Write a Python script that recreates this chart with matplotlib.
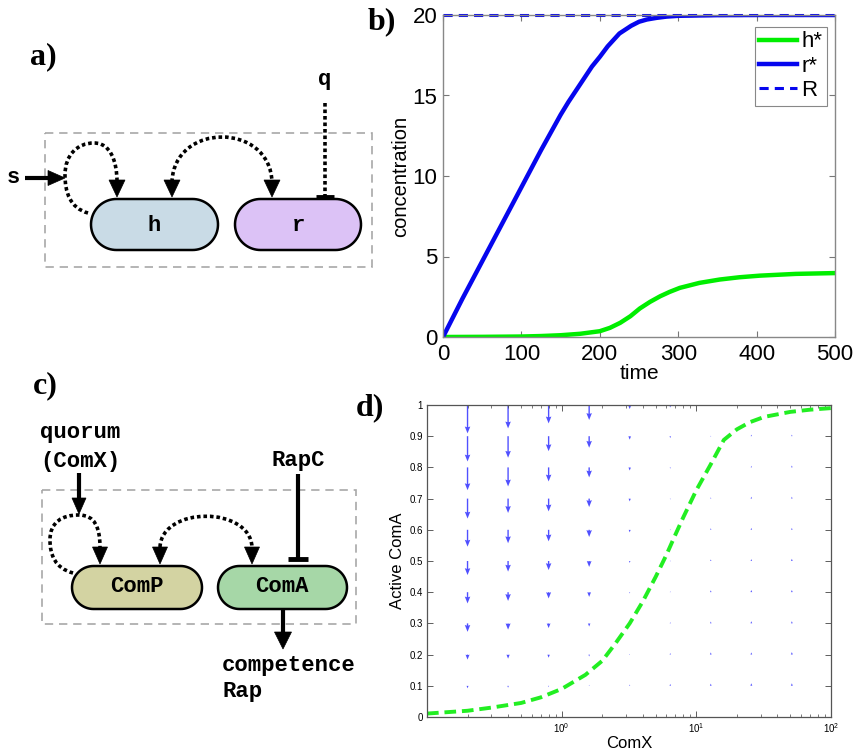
import numpy as np
import matplotlib
matplotlib.use("Agg")
import matplotlib.pyplot as plt
from matplotlib.patches import Polygon, Rectangle, PathPatch
from matplotlib.path import Path
from matplotlib.ticker import FixedLocator, LogLocator, NullFormatter

# ---- panel b data ----
t_r = [0, 25, 50, 75, 100, 125, 150, 160, 175, 190, 200, 210, 225, 240, 250,
       260, 272, 285, 300, 350, 400, 500]
r_star = [0, 2.4, 4.7, 7.0, 9.3, 11.6, 13.8, 14.6, 15.7, 16.8, 17.4, 18.05,
          18.85, 19.33, 19.58, 19.72, 19.82, 19.9, 19.95, 19.99, 20.0, 20.0]
t_h = [0, 50, 100, 125, 150, 175, 200, 213, 226, 239, 251, 264, 277, 289,
       302, 327, 353, 378, 404, 450, 500]
h_star = [0, 0.01, 0.03, 0.06, 0.11, 0.2, 0.36, 0.57, 0.88, 1.29, 1.77, 2.18,
          2.53, 2.80, 3.05, 3.36, 3.57, 3.71, 3.81, 3.92, 3.97]
t_R = [0, 500]
R_total = [20, 20]

# ---- panel d data ----
comx = [0.1, 0.2, 0.3, 0.5, 0.7, 1, 1.5, 2, 2.5, 3.2, 4, 5, 6, 7, 8, 10,
        12.8, 16, 20, 25, 32, 50, 70, 100]
active_coma = [0.011, 0.02, 0.03, 0.045, 0.063, 0.09, 0.135, 0.18, 0.235,
               0.30, 0.37, 0.45, 0.52, 0.585, 0.64, 0.727, 0.81, 0.888, 0.922,
               0.945, 0.962, 0.978, 0.985, 0.99]
q_x = [0.2, 0.4, 0.8, 1.6, 3.2, 6.4, 12.8, 25.6, 51.2]
q_y = [0.1, 0.2, 0.3, 0.4, 0.5, 0.6, 0.7, 0.8, 0.9, 1.0]
# vertical arrow components, one list per column (rows y = 0.1 .. 1.0)
q_v = [
    [-0.008, -0.016, -0.027, -0.036, -0.045, -0.054, -0.064, -0.073, -0.081, -0.091],
    [-0.006, -0.013, -0.020, -0.028, -0.034, -0.043, -0.046, -0.061, -0.069, -0.075],
    [-0.004, -0.010, -0.015, -0.020, -0.029, -0.037, -0.041, -0.045, -0.048, -0.059],
    [0.003, -0.006, -0.010, -0.015, -0.019, -0.023, -0.027, -0.032, -0.037, -0.048],
    [0.004, 0.002, -0.002, -0.004, -0.006, -0.008, -0.009, -0.010, -0.011, -0.013],
    [0.006, 0.005, 0.004, 0.003, 0.002, -0.002, -0.003, -0.004, -0.006, -0.008],
    [0.007, 0.007, 0.006, 0.006, 0.005, 0.005, 0.004, 0.003, -0.002, -0.003],
    [0.008, 0.007, 0.007, 0.007, 0.006, 0.006, 0.006, 0.005, 0.005, 0.003],
    [0.008, 0.008, 0.007, 0.007, 0.007, 0.006, 0.006, 0.006, 0.005, 0.004],
]

plt.rcParams['font.family'] = ['Liberation Sans', 'DejaVu Sans']
fig = plt.figure(figsize=(8.6, 7.53), dpi=100)

# ---- canvas for the diagrams (pixel coordinates) ----
ax0 = fig.add_axes([0, 0, 1, 1])
ax0.set_xlim(0, 860)
ax0.set_ylim(753, 0)
ax0.axis('off')

MONO = dict(family='Liberation Mono', weight='bold', fontsize=16)
LAB = dict(family='Liberation Serif', weight='bold', fontsize=23)
DOT = dict(lw=2.6, ls=(0, (1, 0.8)), color='black')


def pill(x0, y0, x1, y1, fc):
    r = (y1 - y0) / 2
    cy = y0 + r
    a = np.linspace(-np.pi / 2, np.pi / 2, 40)
    right = np.column_stack([x1 - r + r * np.cos(a), cy + r * np.sin(a)])
    left = np.column_stack([x0 + r - r * np.cos(a), cy - r * np.sin(a)])
    ax0.add_patch(Polygon(np.vstack([right, left]), closed=True,
                          fc=fc, ec='black', lw=1.8, zorder=3))


def head(tx, ty, d='down', L=17, W=16):
    if d == 'down':
        pts = [(tx, ty), (tx - W / 2, ty - L), (tx + W / 2, ty - L)]
    else:
        pts = [(tx, ty), (tx - L, ty - W / 2), (tx - L, ty + W / 2)]
    ax0.add_patch(Polygon(pts, closed=True, fc='black', ec='black', lw=0.5, zorder=4))


def curve(pts):
    codes = [Path.MOVETO] + [Path.CURVE4] * (len(pts) - 1)
    ax0.add_patch(PathPatch(Path(pts, codes), fc='none', zorder=2,
                            capstyle='butt', **DOT))


def tbar(x, y, w=18):
    ax0.plot([x - w / 2, x + w / 2], [y, y], color='black', lw=3.5,
             solid_capstyle='butt', zorder=4)


# panel a
ax0.text(30, 57, 'a)', va='center', ha='left', **LAB)
ax0.add_patch(Rectangle((45, 133), 327, 134, fill=False, ec='#a8a8a8',
                        lw=1.2, ls=(0, (5, 3.5))))
pill(91, 199, 218, 250, '#c9dbe6')
pill(235, 199, 361, 250, '#dcc2f6')
ax0.text(154, 225, 'h', ha='center', va='center', zorder=5, **MONO)
ax0.text(298, 225, 'r', ha='center', va='center', zorder=5, **MONO)
ax0.text(13, 177, 's', ha='center', va='center', **MONO)
ax0.plot([25, 50], [178, 178], color='black', lw=3, solid_capstyle='butt')
head(65, 178, d='right', L=17, W=15)
curve([(88, 213), (70, 208), (65, 192), (65, 175),
       (65, 155), (77, 143), (94, 143),
       (110, 143), (117, 160), (117, 182)])
head(117, 197)
curve([(172, 182), (174, 122), (270, 122), (272, 182)])
head(172, 197)
head(272, 197)
ax0.text(325, 79, 'q', ha='center', va='center', **MONO)
ax0.plot([325, 325], [103, 196], dash_capstyle='butt', **DOT)
tbar(325, 197)

# panel c
ax0.text(33, 386, 'c)', va='center', ha='left', **LAB)
ax0.text(80, 432, 'quorum', ha='center', va='center', **MONO)
ax0.text(80, 461, '(ComX)', ha='center', va='center', **MONO)
ax0.add_patch(Rectangle((42, 490), 314, 134, fill=False, ec='#a8a8a8',
                        lw=1.2, ls=(0, (5, 3.5))))
pill(72, 566, 202, 609, '#d3d3a2')
pill(218, 566, 347, 609, '#a6d7a7')
ax0.text(137, 587, 'ComP', ha='center', va='center', zorder=5, **MONO)
ax0.text(282, 587, 'ComA', ha='center', va='center', zorder=5, **MONO)
ax0.plot([79, 79], [473, 500], color='black', lw=3, solid_capstyle='butt')
head(79, 514, L=16, W=14)
curve([(73, 573), (55, 568), (50, 555), (50, 540),
       (50, 522), (62, 515), (79, 515),
       (95, 515), (100, 528), (100, 547)])
head(100, 564, L=17, W=15)
curve([(160, 547), (162, 506), (250, 506), (252, 547)])
head(160, 564, L=17, W=15)
head(252, 564, L=17, W=15)
ax0.text(298, 460, 'RapC', ha='center', va='center', **MONO)
ax0.plot([298, 298], [474, 559], color='black', lw=3, solid_capstyle='butt')
tbar(298, 559, w=20)
ax0.plot([283, 283], [609, 633], color='black', lw=3, solid_capstyle='butt')
head(283, 649, L=17, W=17)
ax0.text(222, 666, 'competence', ha='left', va='center', **MONO)
ax0.text(222, 692, 'Rap', ha='left', va='center', **MONO)

# labels b, d
ax0.text(368, 22, 'b)', va='center', ha='left', **LAB)
ax0.text(356, 408, 'd)', va='center', ha='left', **LAB)

# ---- panel b ----
axb = fig.add_axes([443 / 860, 1 - 337 / 753, 392 / 860, 322 / 753])
axb.plot(t_h, h_star, color='#00ee00', lw=3.2, label='h*')
axb.plot(t_r, r_star, color='#0606ee', lw=3.2, label='r*')
axb.plot(t_R, R_total, color='#0606ee', lw=2.2, ls=(0, (3, 2)), label='R',
         clip_on=False)
axb.set_xlim(0, 500)
axb.set_ylim(0, 20)
axb.set_xticks([0, 100, 200, 300, 400, 500])
axb.set_yticks([0, 5, 10, 15, 20])
axb.tick_params(direction='in', top=True, right=True, length=4, width=0.8,
                color='#777777', labelsize=16, pad=4)
axb.tick_params(axis='x', pad=5)
for s in axb.spines.values():
    s.set_color('#888888')
    s.set_linewidth(1.0)
axb.set_xlabel('time', fontsize=15, labelpad=-1)
axb.set_ylabel('concentration', fontsize=14.5, labelpad=2)
leg = axb.legend(loc='upper right', bbox_to_anchor=(1 - 8 / 392, 1 - 12 / 322),
                 fontsize=16, fancybox=False, edgecolor='#888888',
                 framealpha=1, handlelength=1.7, handletextpad=0.2,
                 borderpad=0.2, labelspacing=0.15, borderaxespad=0)
leg.get_frame().set_linewidth(0.8)

# ---- panel d ----
axd = fig.add_axes([427 / 860, 1 - 717 / 753, 404 / 860, 312 / 753])
axd.set_xscale('log')
X, Y = np.meshgrid(q_x, q_y)
V = np.array(q_v).T
U = np.zeros_like(V)
axd.quiver(X, Y, U, V, angles='xy', scale_units='y', scale=1, pivot='tail',
           color='#5050ff', width=0.0034, headwidth=4, headlength=5,
           headaxislength=4.5, minlength=0.5)
axd.plot(comx, active_coma, color='#22ee22', lw=2.8, ls=(0, (3, 1.5)))
axd.set_xlim(0.1, 100)
axd.set_ylim(0, 1)
axd.xaxis.set_major_locator(FixedLocator([1, 10, 100]))
axd.xaxis.set_minor_locator(LogLocator(base=10, subs=np.arange(2, 10)))
axd.xaxis.set_minor_formatter(NullFormatter())
axd.set_yticks([0] + q_y)
axd.set_yticklabels(['0', '0.1', '0.2', '0.3', '0.4', '0.5', '0.6', '0.7',
                     '0.8', '0.9', '1'])
axd.tick_params(which='both', direction='in', top=True, right=True,
                color='#444444', labelsize=7, pad=3)
axd.tick_params(which='major', length=4, width=0.6)
axd.tick_params(which='minor', length=2.5, width=0.5)
for s in axd.spines.values():
    s.set_color('#555555')
    s.set_linewidth(0.9)
axd.set_xlabel('ComX', fontsize=12, labelpad=1)
axd.set_ylabel('Active ComA', fontsize=12, labelpad=3)

fig.savefig('out.png', dpi=100)
